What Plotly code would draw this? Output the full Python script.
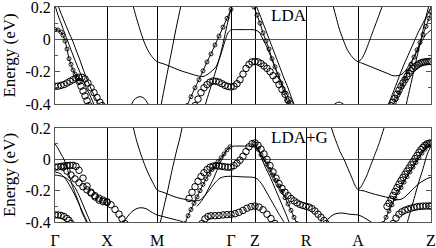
import plotly.graph_objects as go

# ---------------- k-path ----------------
kpos = [0, 52, 102, 176, 200, 251, 303, 376]
klabels = ["Γ", "X", "M", "Γ", "Z", "R", "A", "Z"]
ytick_vals = [-0.4, -0.2, 0, 0.2]
ytick_text = ["-0.4", "-0.2", "0", "0.2"]

# ---------------- LDA (top panel) ----------------
lda_t1_k = [0, 3, 6, 9, 12, 16, 20, 24, 28, 32, 36, 40]
lda_t1_e = [0.21, 0.15, 0.1, 0.05, 0.0, -0.065, -0.13, -0.19, -0.25, -0.31, -0.36, -0.42]
lda_t2_k = [3, 6, 10, 14, 17, 21, 25, 29, 33, 37, 41, 45]
lda_t2_e = [0.21, 0.16, 0.1, 0.04, 0.0, -0.065, -0.13, -0.2, -0.26, -0.32, -0.37, -0.42]
lda_p1_k = [78, 82, 86, 90, 94, 98, 102, 110, 118, 126, 134, 142, 148, 153, 157, 161, 166, 170, 173, 176,
            182, 190, 196, 200, 204, 208, 212, 216, 221, 226, 231, 236, 238]
lda_p1_e = [0.21, 0.12, 0.04, -0.03, -0.08, -0.115, -0.138, -0.155, -0.175, -0.195, -0.21, -0.225, -0.23,
            -0.215, -0.195, -0.17, -0.09, -0.01, 0.04, 0.058, 0.06, 0.06, 0.06, 0.058, 0.045, 0.0, -0.05,
            -0.11, -0.19, -0.26, -0.33, -0.4, -0.43]
lda_l1_k = [106, 110, 114, 118, 122, 126]
lda_l1_e = [-0.41, -0.28, -0.155, -0.03, 0.095, 0.21]
lda_l2_k = [150, 154, 158, 162, 166, 170, 174, 177]
lda_l2_e = [-0.41, -0.33, -0.25, -0.17, -0.08, 0.03, 0.14, 0.21]
lda_bx_k = [76, 79, 82, 85, 88, 91, 94]
lda_bx_e = [-0.41, -0.375, -0.36, -0.355, -0.36, -0.38, -0.41]
lda_l3_k = [201, 205, 209, 213, 217, 221, 225, 229, 233, 237, 239]
lda_l3_e = [0.21, 0.15, 0.085, 0.02, -0.045, -0.11, -0.175, -0.24, -0.3, -0.37, -0.4]
lda_bra_k = [278, 281, 284, 287, 290]
lda_bra_e = [-0.41, -0.395, -0.388, -0.395, -0.41]
lda_p2_k = [278, 281, 284, 288, 292, 296, 300, 303, 308, 314, 320, 326, 332, 338, 343, 347, 351,
            355, 359, 363, 367, 371, 376]
lda_p2_e = [0.21, 0.14, 0.07, 0.0, -0.06, -0.1, -0.127, -0.138, -0.15, -0.165, -0.18, -0.195, -0.21,
            -0.225, -0.225, -0.215, -0.19, -0.15, -0.11, -0.06, -0.01, 0.03, 0.058]
lda_l4_k = [303, 306, 309, 312, 315, 318, 321, 324, 327]
lda_l4_e = [-0.138, -0.125, -0.095, -0.05, 0.0, 0.05, 0.1, 0.15, 0.2]
lda_l5_k = [351, 355, 359, 363, 367, 371, 374]
lda_l5_e = [-0.41, -0.3, -0.19, -0.08, 0.03, 0.14, 0.21]
lda_l6_k = [333, 338, 343, 348, 353, 358, 363, 368, 373, 376]
lda_l6_e = [-0.41, -0.33, -0.25, -0.17, -0.1, -0.03, 0.04, 0.1, 0.16, 0.2]

# fat bands (small circles)
lda_s1_k = [0, 3, 6, 8, 10, 12, 14, 16, 18, 20, 22, 24]
lda_s1_e = [0.06, 0.058, 0.045, 0.025, -0.01, -0.06, -0.12, -0.155, -0.19, -0.215, -0.24, -0.26]
lda_s2_k = [132, 136, 140, 144, 148, 152, 156, 160, 164, 168, 172, 176]
lda_s2_e = [-0.41, -0.355, -0.3, -0.25, -0.195, -0.14, -0.09, -0.035, 0.02, 0.075, 0.13, 0.185]
lda_s3_k = [199, 202, 205, 208, 211, 214, 217, 220, 223, 226, 229, 232, 234]
lda_s3_e = [0.2, 0.15, 0.1, 0.04, -0.01, -0.06, -0.12, -0.17, -0.22, -0.27, -0.33, -0.38, -0.41]
lda_s4_k = [338, 341, 344, 347, 350, 353, 356, 359, 362, 365, 368, 371, 374, 376]
lda_s4_e = [-0.41, -0.37, -0.33, -0.29, -0.245, -0.2, -0.155, -0.11, -0.065, -0.02, 0.03, 0.08, 0.13, 0.17]
# fat bands (big circles)
lda_b1_k = [0, 3, 6, 9, 12, 15, 18, 21, 24, 27, 30, 33, 36, 39, 42, 45, 47]
lda_b1_e = [-0.29, -0.29, -0.285, -0.28, -0.27, -0.26, -0.25, -0.24, -0.235, -0.235, -0.245, -0.27, -0.3,
            -0.33, -0.36, -0.39, -0.41]
lda_b1b_k = [24, 26, 28, 30, 32, 34]
lda_b1b_e = [-0.26, -0.29, -0.32, -0.35, -0.38, -0.41]
lda_b2_k = [140, 143, 146, 149, 152, 155, 158, 161, 164, 167, 170, 173, 176, 179, 182, 185, 188, 191, 194,
            197, 200, 203, 206, 209, 212, 215, 218, 221, 224, 227, 230, 233, 235]
lda_b2_e = [-0.41, -0.37, -0.33, -0.3, -0.28, -0.265, -0.258, -0.26, -0.265, -0.275, -0.285, -0.292, -0.295,
            -0.29, -0.275, -0.25, -0.215, -0.18, -0.155, -0.14, -0.137, -0.14, -0.15, -0.165, -0.18, -0.2,
            -0.225, -0.25, -0.28, -0.31, -0.34, -0.375, -0.4]
lda_b3_k = [336, 338, 340, 342, 344, 346, 348, 350, 352, 354, 356, 358, 360, 362, 364, 366, 368, 370, 372,
            374, 376]
lda_b3_e = [-0.41, -0.39, -0.365, -0.34, -0.315, -0.29, -0.27, -0.25, -0.23, -0.21, -0.195, -0.18, -0.17,
            -0.16, -0.152, -0.146, -0.142, -0.14, -0.138, -0.137, -0.137]

# ---------------- LDA+G (bottom panel) ----------------
ldag_t1_k = [0, 3, 6, 9, 12, 15, 18, 21, 24, 27, 30, 32]
ldag_t1_e = [0.1, 0.07, 0.035, 0.0, -0.055, -0.12, -0.18, -0.23, -0.28, -0.34, -0.38, -0.41]
ldag_t2_k = [0, 5, 10, 15, 20, 24, 28, 32, 36]
ldag_t2_e = [-0.1, -0.105, -0.115, -0.14, -0.18, -0.23, -0.29, -0.35, -0.41]
ldag_t3_k = [0, 5, 10, 15, 20, 25, 30, 33]
ldag_t3_e = [-0.08, -0.09, -0.12, -0.17, -0.23, -0.3, -0.37, -0.41]
ldag_p1_k = [78, 82, 86, 90, 94, 98, 102, 108, 114, 120, 126, 132, 140, 145, 150, 155, 160, 165, 170, 176,
             188, 200, 204, 208, 212, 216, 220, 224, 228, 230]
ldag_p1_e = [0.21, 0.11, 0.03, -0.04, -0.1, -0.15, -0.195, -0.21, -0.225, -0.24, -0.25, -0.258, -0.265,
             -0.26, -0.23, -0.19, -0.15, -0.12, -0.11, -0.108, -0.112, -0.117, -0.135, -0.17, -0.215, -0.26,
             -0.305, -0.35, -0.39, -0.41]
ldag_l9_k = [142, 146, 150, 154, 158, 162, 166, 170, 173, 176, 182, 188, 194, 198, 201, 203, 207, 211, 215,
             219, 223, 227, 231, 234]
ldag_l9_e = [-0.3, -0.27, -0.23, -0.18, -0.13, -0.07, -0.01, 0.04, 0.07, 0.082, 0.085, 0.085, 0.085, 0.082,
             0.07, 0.06, 0.0, -0.06, -0.11, -0.17, -0.23, -0.29, -0.35, -0.4]
ldag_l7_k = [105, 109, 113, 117, 121, 125, 127]
ldag_l7_e = [-0.41, -0.3, -0.19, -0.07, 0.04, 0.14, 0.2]
ldag_bx_k = [68, 72, 76, 80, 84, 88, 92, 96, 102, 108, 114, 120, 126, 131]
ldag_bx_e = [-0.41, -0.37, -0.34, -0.32, -0.31, -0.31, -0.318, -0.335, -0.355, -0.365, -0.375, -0.385,
             -0.395, -0.41]
ldag_bra_k = [270, 274, 278, 282, 286, 290, 294, 298, 303, 307, 311, 315, 318]
ldag_bra_e = [-0.41, -0.375, -0.355, -0.345, -0.343, -0.345, -0.35, -0.352, -0.355, -0.365, -0.38, -0.395,
              -0.41]
ldag_p2_k = [276, 279, 282, 285, 289, 293, 297, 300, 303, 308, 313, 318, 323, 328, 333, 338, 342, 346, 350,
             354, 358, 362, 366, 370, 373, 376]
ldag_p2_e = [0.21, 0.15, 0.1, 0.05, 0.0, -0.06, -0.12, -0.165, -0.194, -0.2, -0.21, -0.22, -0.228, -0.236,
             -0.244, -0.252, -0.258, -0.255, -0.24, -0.215, -0.19, -0.165, -0.145, -0.13, -0.12, -0.115]
ldag_l4_k = [303, 306, 309, 312, 315, 318, 321, 324, 327, 329]
ldag_l4_e = [-0.194, -0.175, -0.14, -0.1, -0.05, 0.0, 0.05, 0.1, 0.16, 0.2]
ldag_l5_k = [352, 356, 360, 364, 368, 372, 376]
ldag_l5_e = [-0.41, -0.32, -0.23, -0.14, -0.06, 0.03, 0.085]

# fat bands (small circles)
ldag_s1_k = [328, 331, 334, 337, 340, 343, 346, 349, 352, 355, 358, 361, 364, 367, 370, 373, 376]
ldag_s1_e = [-0.41, -0.37, -0.33, -0.29, -0.25, -0.21, -0.18, -0.145, -0.11, -0.08, -0.05, -0.02, 0.01,
             0.04, 0.065, 0.088, 0.1]
ldag_s2_k = [130, 133, 136, 139, 142, 145, 148, 151, 154, 157, 160, 163, 166, 169, 172, 175]
ldag_s2_e = [-0.41, -0.36, -0.32, -0.28, -0.24, -0.2, -0.16, -0.125, -0.095, -0.065, -0.04, -0.015, 0.01,
             0.035, 0.06, 0.08]
ldag_s3_k = [200, 203, 206, 209, 212, 215, 218, 221, 224, 227, 230, 233, 236, 239, 242]
ldag_s3_e = [0.1, 0.065, 0.03, 0.0, -0.03, -0.065, -0.1, -0.135, -0.17, -0.205, -0.245, -0.285, -0.325,
             -0.37, -0.41]
# fat bands (big circles)
ldag_b1_k = [0, 3, 6, 9, 12, 15, 18, 21, 24, 28, 32, 36, 40, 44, 48, 52, 56, 60, 64, 67, 70]
ldag_b1_e = [-0.05, -0.048, -0.045, -0.042, -0.04, -0.038, -0.038, -0.045, -0.07, -0.12, -0.17, -0.21,
             -0.24, -0.26, -0.27, -0.275, -0.29, -0.32, -0.35, -0.38, -0.41]
ldag_b2_k = [8, 12, 16, 20, 24, 28, 32, 36, 40, 44, 48, 52]
ldag_b2_e = [-0.05, -0.075, -0.1, -0.125, -0.15, -0.175, -0.195, -0.215, -0.232, -0.248, -0.26, -0.27]
ldag_b3_k = [0, 3, 6, 9, 12, 14, 16]
ldag_b3_e = [-0.355, -0.355, -0.358, -0.365, -0.378, -0.39, -0.41]
ldag_b4_k = [134, 137, 140, 143, 146, 149, 152, 155, 158, 161, 164, 167, 170, 173, 176, 179, 182, 185, 188,
             191, 194, 197, 200, 203, 206, 209, 212, 215, 218, 221, 224, 227, 230, 233, 236, 239, 242, 245,
             248, 251, 254, 257, 260, 263, 266, 269, 271]
ldag_b4_e = [-0.25, -0.21, -0.175, -0.14, -0.11, -0.085, -0.065, -0.05, -0.043, -0.04, -0.042, -0.045,
             -0.048, -0.05, -0.05, -0.04, -0.025, -0.005, 0.02, 0.05, 0.08, 0.1, 0.105, 0.09, 0.065, 0.035,
             0.0, -0.04, -0.08, -0.12, -0.155, -0.185, -0.21, -0.232, -0.25, -0.265, -0.278, -0.288, -0.295,
             -0.3, -0.305, -0.315, -0.33, -0.35, -0.37, -0.39, -0.41]
ldag_b5_k = [147, 150, 153, 156, 160, 164, 168, 172, 176, 180, 184, 188, 192, 196, 200, 204, 208, 212, 216,
             220]
ldag_b5_e = [-0.41, -0.38, -0.365, -0.36, -0.36, -0.358, -0.355, -0.353, -0.352, -0.347, -0.338, -0.326,
             -0.312, -0.302, -0.298, -0.305, -0.322, -0.35, -0.378, -0.41]
ldag_b6_k = [332, 334, 336, 338, 340, 342, 344, 346, 348, 350, 352, 354, 356, 358, 360, 362, 364, 366, 368,
             370, 372, 374, 376]
ldag_b6_e = [-0.3, -0.28, -0.255, -0.23, -0.205, -0.18, -0.158, -0.135, -0.115, -0.095, -0.075, -0.055,
             -0.035, -0.015, 0.005, 0.025, 0.045, 0.062, 0.077, 0.09, 0.098, 0.103, 0.105]
ldag_b7_k = [338, 341, 344, 347, 350, 353, 356, 359, 362, 365, 368, 371, 374, 376]
ldag_b7_e = [-0.41, -0.375, -0.35, -0.335, -0.325, -0.318, -0.312, -0.307, -0.303, -0.3, -0.299, -0.298,
             -0.298, -0.298]

panels = {
    "top": {
        "thin": [(lda_t1_k, lda_t1_e), (lda_t2_k, lda_t2_e), (lda_p1_k, lda_p1_e), (lda_l1_k, lda_l1_e),
                 (lda_l2_k, lda_l2_e), (lda_bx_k, lda_bx_e), (lda_l3_k, lda_l3_e), (lda_bra_k, lda_bra_e),
                 (lda_p2_k, lda_p2_e), (lda_l4_k, lda_l4_e), (lda_l5_k, lda_l5_e), (lda_l6_k, lda_l6_e)],
        "small": [(lda_s1_k, lda_s1_e), (lda_s2_k, lda_s2_e), (lda_s3_k, lda_s3_e), (lda_s4_k, lda_s4_e)],
        "big": [(lda_b1_k, lda_b1_e), (lda_b1b_k, lda_b1b_e), (lda_b2_k, lda_b2_e), (lda_b3_k, lda_b3_e)],
    },
    "bottom": {
        "thin": [(ldag_t1_k, ldag_t1_e), (ldag_t2_k, ldag_t2_e), (ldag_t3_k, ldag_t3_e),
                 (ldag_p1_k, ldag_p1_e), (ldag_l9_k, ldag_l9_e), (ldag_l7_k, ldag_l7_e),
                 (ldag_bx_k, ldag_bx_e), (ldag_bra_k, ldag_bra_e), (ldag_p2_k, ldag_p2_e),
                 (ldag_l4_k, ldag_l4_e), (ldag_l5_k, ldag_l5_e)],
        "small": [(ldag_s1_k, ldag_s1_e), (ldag_s2_k, ldag_s2_e), (ldag_s3_k, ldag_s3_e)],
        "big": [(ldag_b1_k, ldag_b1_e), (ldag_b2_k, ldag_b2_e), (ldag_b3_k, ldag_b3_e), (ldag_b4_k, ldag_b4_e),
                (ldag_b5_k, ldag_b5_e), (ldag_b6_k, ldag_b6_e), (ldag_b7_k, ldag_b7_e)],
    },
}

fig = go.Figure()
axes = {"top": ("x2", "y2"), "bottom": ("x", "y")}
for name, p in panels.items():
    xa, ya = axes[name]
    for k, e in p["thin"]:
        fig.add_trace(go.Scatter(x=k, y=e, mode="lines", xaxis=xa, yaxis=ya,
                                 line=dict(color="black", width=1, shape="spline", smoothing=0.8),
                                 showlegend=False, hoverinfo="skip"))
    for k, e in p["small"]:
        fig.add_trace(go.Scatter(x=k, y=e, mode="lines+markers", xaxis=xa, yaxis=ya,
                                 line=dict(color="black", width=1, shape="spline", smoothing=0.8),
                                 marker=dict(symbol="circle-open", size=4, color="black",
                                             line=dict(width=0.9, color="black")),
                                 showlegend=False, hoverinfo="skip"))
    for k, e in p["big"]:
        fig.add_trace(go.Scatter(x=k, y=e, mode="markers", xaxis=xa, yaxis=ya,
                                 marker=dict(symbol="circle-open", size=6.5, color="black",
                                             line=dict(width=1, color="black")),
                                 showlegend=False, hoverinfo="skip"))

serif = "Liberation Serif"
xcommon = dict(range=[0, 376], tickvals=kpos, showgrid=True, gridcolor="black", gridwidth=1,
               showline=True, linecolor="#555", linewidth=1, mirror=True, zeroline=False,
               automargin=False, tickfont=dict(family=serif, size=16, color="black"))
ycommon = dict(range=[-0.4, 0.2], tickvals=ytick_vals, ticktext=ytick_text, showgrid=False,
               ticks="inside", ticklen=5, tickcolor="#555", showline=True, linecolor="#555",
               linewidth=1, mirror="allticks", zeroline=True, zerolinecolor="#7b2fbf", zerolinewidth=1.2,
               minor=dict(ticks="inside", dtick=0.1, ticklen=3, tickcolor="#555"),
               automargin=False, ticklabeloverflow="allow",
               tickfont=dict(family=serif, size=16, color="black"),
               title=dict(text="Energy (eV)", font=dict(family=serif, size=17, color="black"), standoff=6))

fig.update_layout(
    width=436, height=248, margin=dict(l=55, r=5, t=7, b=26),
    paper_bgcolor="white", plot_bgcolor="white",
    font=dict(family=serif),
    xaxis=dict(xcommon, anchor="y", ticktext=klabels, ticks="outside", ticklen=4,
               tickcolor="rgba(0,0,0,0)"),
    xaxis2=dict(xcommon, anchor="y2", matches="x", showticklabels=False, ticks=""),
    yaxis=dict(ycommon, domain=[0, 0.437], anchor="x"),
    yaxis2=dict(ycommon, domain=[0.549, 1], anchor="x2"),
    annotations=[
        dict(text="LDA", xref="paper", yref="paper", x=0.568, y=0.96, xanchor="left", yanchor="middle",
             showarrow=False, font=dict(family=serif, size=17, color="black")),
        dict(text="LDA+G", xref="paper", yref="paper", x=0.568, y=0.395, xanchor="left", yanchor="middle",
             showarrow=False, font=dict(family=serif, size=17, color="black")),
    ],
)

fig.write_html("out.html", config={"displayModeBar": False},
               post_script="document.body.style.margin='0';document.body.style.padding='0';")
